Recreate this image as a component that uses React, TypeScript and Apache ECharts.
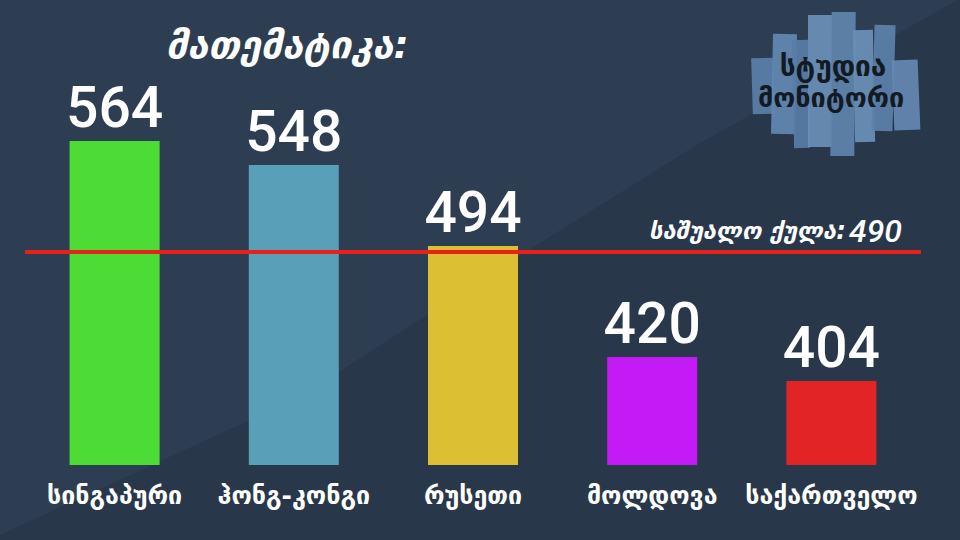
import React, { useEffect, useRef } from "react";
import * as echarts from "echarts";

// Mathematics scores by country with the average shown as a reference line
const categories = ["სინგაპური", "ჰონგ-კონგი", "რუსეთი", "მოლდოვა", "საქართველო"];
const scores = [564, 548, 494, 420, 404];
const barColors = ["#4cdc35", "#5a9fb8", "#dcbf32", "#c41af5", "#e22424"];
const averageScore = 490;
const titleText = "მათემატიკა:";
const averageText = "საშუალო ქულა:";
const logoTop = "სტუდია";
const logoBottom = "მონიტორი";

const GEO_FONT = "DejaVu Sans";
const NUM_FONT = "Roboto";

// torn paper strips behind the studio mark: [x, y, w, h, rotation, colour]
const strips: [number, number, number, number, number, string][] = [
  [752, 58, 22, 56, 0.03, "#5a7fa8"],
  [772, 34, 24, 100, -0.02, "#6388b1"],
  [793, 40, 16, 108, 0.02, "#587da6"],
  [808, 15, 24, 132, 0.0, "#6a8fb7"],
  [831, 12, 24, 144, -0.01, "#5f84ad"],
  [854, 30, 20, 112, 0.02, "#6b90b9"],
  [873, 25, 21, 106, -0.03, "#5c81aa"],
  [893, 60, 26, 70, 0.04, "#6589b2"],
];

function buildLogo() {
  const children: any[] = strips.map(([x, y, w, h, r, c]) => ({
    type: "rect",
    x,
    y,
    rotation: r,
    originX: w / 2,
    originY: h / 2,
    shape: { x: 0, y: 0, width: w, height: h },
    style: { fill: c, opacity: 0.92 },
  }));
  children.push(
    {
      type: "text",
      style: {
        x: 833,
        y: 66,
        text: logoTop,
        align: "center",
        verticalAlign: "middle",
        fill: "#121a24",
        font: `bold 28px "${GEO_FONT}"`,
      },
    },
    {
      type: "text",
      style: {
        x: 831,
        y: 97,
        text: logoBottom,
        align: "center",
        verticalAlign: "middle",
        fill: "#121a24",
        font: `bold 27px "${GEO_FONT}"`,
      },
    }
  );
  return { type: "group", z: 1, children };
}

export default function App() {
  const ref = useRef<HTMLDivElement>(null);

  useEffect(() => {
    document.body.style.margin = "0";
    if (!ref.current) return;
    const chart = echarts.init(ref.current, undefined, { renderer: "svg" });

    chart.setOption({
      animation: false,
      backgroundColor: "#28374a",
      graphic: [
        {
          type: "polygon",
          z: 0,
          shape: {
            points: [
              [0, 0],
              [958, 0],
              [700, 143],
              [500, 268],
              [300, 397],
              [0, 535],
            ],
          },
          style: { fill: "#2e3e52" },
        },
        {
          type: "text",
          z: 1,
          left: 166,
          top: 26,
          style: {
            text: titleText,
            fill: "#ffffff",
            font: `italic bold 38px "${GEO_FONT}"`,
          },
        },
        buildLogo(),
      ],
      grid: { left: 25, right: 39, top: 90, bottom: 75 },
      xAxis: {
        type: "category",
        data: categories,
        axisLine: { show: false },
        axisTick: { show: false },
        splitLine: { show: false },
        axisLabel: {
          color: "#ffffff",
          fontFamily: GEO_FONT,
          fontWeight: "bold",
          fontSize: 25,
          margin: 18,
          interval: 0,
        },
      },
      yAxis: { type: "value", min: 348, max: 598, show: false },
      series: [
        {
          type: "bar",
          barWidth: 90,
          data: scores.map((v, i) => ({ value: v, itemStyle: { color: barColors[i] } })),
          label: {
            show: true,
            position: "top",
            distance: 5,
            color: "#ffffff",
            fontFamily: NUM_FONT,
            fontWeight: 500,
            fontSize: 57,
          },
          markLine: {
            silent: true,
            symbol: "none",
            lineStyle: { color: "#e8221a", width: 4, type: "solid" },
            label: {
              position: "insideEndTop",
              distance: 5,
              padding: [0, 14, 0, 0],
              formatter: () => `{g|${averageText}} {n|${averageScore}}`,
              rich: {
                g: {
                  fontFamily: GEO_FONT,
                  fontStyle: "italic",
                  fontWeight: "bold",
                  fontSize: 24,
                  color: "#ffffff",
                },
                n: {
                  fontFamily: NUM_FONT,
                  fontStyle: "italic",
                  fontWeight: 500,
                  fontSize: 32,
                  color: "#ffffff",
                },
              },
            },
            data: [{ yAxis: averageScore }],
          },
        },
      ],
    });

    return () => chart.dispose();
  }, []);

  return (
    <div
      ref={ref}
      style={{ position: "absolute", left: 0, top: 0, width: 960, height: 540 }}
    />
  );
}
